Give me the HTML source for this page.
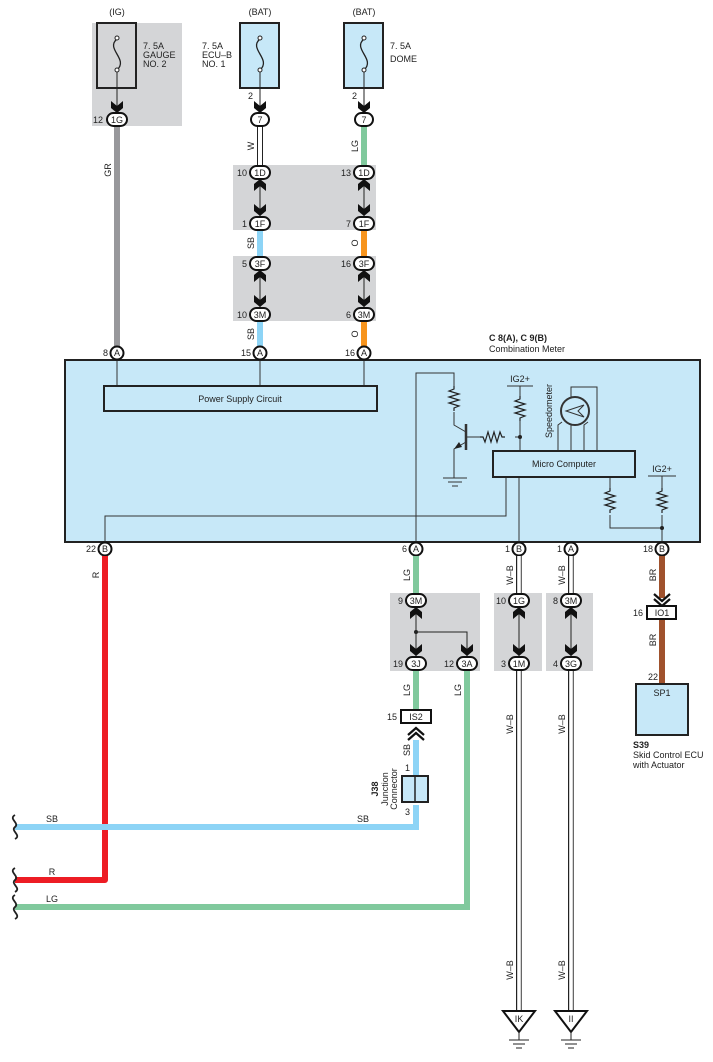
<!DOCTYPE html>
<html><head><meta charset="utf-8"><style>
html,body{margin:0;padding:0;background:#fff}
svg{display:block}
text{font-family:"Liberation Sans",sans-serif;font-size:9px;fill:#222}
.c{text-anchor:middle}
.r{text-anchor:end}
</style></head><body>
<svg width="713" height="1062" viewBox="0 0 713 1062" xmlns="http://www.w3.org/2000/svg">
<defs>
<polygon id="ad" points="-6,-11 0,-6 6,-11 6,-4 0,1 -6,-4" fill="#111"/>
<polygon id="au" points="-6,11 0,6 6,11 6,4 0,-1 -6,4" fill="#111"/>
<path id="res" d="M0,0 l0,3 l-5,2 l10,3 l-10,3 l10,3 l-10,3 l10,3 l-5,2 l0,3" fill="none" stroke="#222" stroke-width="1.2"/>
</defs>

<rect x="92" y="23" width="90" height="103" fill="#d4d5d7"/>
<rect x="233" y="165" width="143" height="65" fill="#d4d5d7"/>
<rect x="233" y="256" width="143" height="65" fill="#d4d5d7"/>
<rect x="390" y="593" width="90" height="78" fill="#d4d5d7"/>
<rect x="494" y="593" width="48" height="78" fill="#d4d5d7"/>
<rect x="546" y="593" width="47" height="78" fill="#d4d5d7"/>

<text x="117" y="15" class="c">(IG)</text>
<text x="260" y="15" class="c">(BAT)</text>
<text x="364" y="15" class="c">(BAT)</text>
<rect x="97" y="23" width="39" height="65" fill="#d4d5d7" stroke="#222" stroke-width="2"/>
<rect x="240" y="23" width="39" height="65" fill="#c7e8f8" stroke="#222" stroke-width="2"/>
<rect x="344" y="23" width="39" height="65" fill="#c7e8f8" stroke="#222" stroke-width="2"/>
<g fill="none" stroke="#222" stroke-width="1.3">
<path d="M117,39 c-12,10 12,20 0,31"/><path d="M260,39 c-12,10 12,20 0,31"/><path d="M364,39 c-12,10 12,20 0,31"/>
</g>
<g fill="#fff" stroke="#222"><circle cx="117" cy="38" r="2"/><circle cx="117" cy="70" r="2"/><circle cx="260" cy="38" r="2"/><circle cx="260" cy="70" r="2"/><circle cx="364" cy="38" r="2"/><circle cx="364" cy="70" r="2"/></g>
<text x="143" y="49">7. 5A</text><text x="143" y="58">GAUGE</text><text x="143" y="67">NO. 2</text>
<text x="202" y="49">7. 5A</text><text x="202" y="58">ECU–B</text><text x="202" y="67">NO. 1</text>
<text x="390" y="49">7. 5A</text><text x="390" y="62">DOME</text>
<g stroke="#222" stroke-width="1"><line x1="117" y1="72" x2="117" y2="108"/><line x1="260" y1="72" x2="260" y2="108"/><line x1="364" y1="72" x2="364" y2="108"/></g>
<use href="#ad" x="117" y="112"/><use href="#ad" x="260" y="112"/><use href="#ad" x="364" y="112"/>
<text x="253" y="99" class="r">2</text><text x="357" y="99" class="r">2</text>

<line x1="117" y1="126" x2="117" y2="346" stroke="#98989b" stroke-width="6"/>
<line x1="260" y1="126" x2="260" y2="165" stroke="#222" stroke-width="6"/>
<line x1="260" y1="126" x2="260" y2="165" stroke="#fff" stroke-width="4"/>
<line x1="364" y1="126" x2="364" y2="165" stroke="#80c99d" stroke-width="6"/>
<line x1="260" y1="230" x2="260" y2="256" stroke="#8dd4f6" stroke-width="6"/>
<line x1="364" y1="230" x2="364" y2="256" stroke="#f7941d" stroke-width="6"/>
<line x1="260" y1="321" x2="260" y2="346" stroke="#8dd4f6" stroke-width="6"/>
<line x1="364" y1="321" x2="364" y2="346" stroke="#f7941d" stroke-width="6"/>
<g font-size="9">
<text transform="translate(111,170) rotate(-90)" class="c">GR</text>
<text transform="translate(254,146) rotate(-90)" class="c">W</text>
<text transform="translate(358,146) rotate(-90)" class="c">LG</text>
<text transform="translate(254,243) rotate(-90)" class="c">SB</text>
<text transform="translate(358,243) rotate(-90)" class="c">O</text>
<text transform="translate(254,334) rotate(-90)" class="c">SB</text>
<text transform="translate(358,334) rotate(-90)" class="c">O</text>
</g>
<g stroke="#222" stroke-width="1"><line x1="260" y1="178" x2="260" y2="216"/><line x1="364" y1="178" x2="364" y2="216"/><line x1="260" y1="269" x2="260" y2="307"/><line x1="364" y1="269" x2="364" y2="307"/></g>
<use href="#au" x="260" y="180"/><use href="#ad" x="260" y="215"/><use href="#au" x="364" y="180"/><use href="#ad" x="364" y="215"/>
<use href="#au" x="260" y="271"/><use href="#ad" x="260" y="306"/><use href="#au" x="364" y="271"/><use href="#ad" x="364" y="306"/>
<g fill="#fff" stroke="#111" stroke-width="2">
<rect x="107" y="113" width="20" height="13" rx="6.5"/>
<rect x="251" y="113" width="18" height="13" rx="6.5"/><rect x="355" y="113" width="18" height="13" rx="6.5"/>
<rect x="250" y="166" width="20" height="13" rx="6.5"/><rect x="354" y="166" width="20" height="13" rx="6.5"/>
<rect x="250" y="217" width="20" height="13" rx="6.5"/><rect x="354" y="217" width="20" height="13" rx="6.5"/>
<rect x="250" y="257" width="20" height="13" rx="6.5"/><rect x="354" y="257" width="20" height="13" rx="6.5"/>
<rect x="250" y="308" width="20" height="13" rx="6.5"/><rect x="354" y="308" width="20" height="13" rx="6.5"/>
</g>
<text x="117" y="123" class="c">1G</text><text x="103" y="123" class="r">12</text>
<text x="260" y="123" class="c">7</text><text x="364" y="123" class="c">7</text>
<text x="260" y="176" class="c">1D</text><text x="364" y="176" class="c">1D</text><text x="247" y="176" class="r">10</text><text x="351" y="176" class="r">13</text>
<text x="260" y="227" class="c">1F</text><text x="364" y="227" class="c">1F</text><text x="247" y="227" class="r">1</text><text x="351" y="227" class="r">7</text>
<text x="260" y="267" class="c">3F</text><text x="364" y="267" class="c">3F</text><text x="247" y="267" class="r">5</text><text x="351" y="267" class="r">16</text>
<text x="260" y="318" class="c">3M</text><text x="364" y="318" class="c">3M</text><text x="247" y="318" class="r">10</text><text x="351" y="318" class="r">6</text>

<text x="489" y="341" font-weight="bold">C 8(A), C 9(B)</text>
<text x="489" y="352">Combination Meter</text>
<rect x="65" y="360" width="635" height="182" fill="#c7e8f8" stroke="#222" stroke-width="2"/>
<g stroke="#333" stroke-width="1" fill="none">
<line x1="117" y1="360" x2="117" y2="386"/><line x1="260" y1="360" x2="260" y2="386"/><line x1="364" y1="360" x2="364" y2="386"/>
<path d="M105,543 V516 H506 V477"/>
<path d="M416,543 V373 H454 V386"/>
<path d="M454,412 V425 L466,432"/>
<path d="M466,442 L454,449 V478"/>
<line x1="466" y1="424" x2="466" y2="450" stroke-width="2.5"/>
<path d="M466,437 H480"/><path d="M515,437 H520"/>
<line x1="443" y1="478" x2="467" y2="478"/><line x1="448" y1="482" x2="462" y2="482"/><line x1="452" y1="486" x2="458" y2="486"/>
<line x1="507" y1="386" x2="533" y2="386"/>
<path d="M520,386 V398"/><path d="M520,420 V451"/>
<line x1="519" y1="477" x2="519" y2="543"/>
<path d="M558,451 V425 L562,422"/><path d="M571,451 V425"/><path d="M584,451 V425 L588,422"/>
<path d="M571,397 V387 H597 V451"/>
<circle cx="575" cy="411" r="14" stroke-width="2"/>
<path d="M566,411 L584,405 L578,411 L584,417 Z"/>
<path d="M610,477 V489"/><path d="M610,515 V528 H662"/>
<line x1="648" y1="476" x2="676" y2="476"/>
<path d="M662,476 V489"/><path d="M662,515 V543"/>
</g>
<use href="#res" x="454" y="386"/>
<use href="#res" x="520" y="396"/>
<use href="#res" x="610" y="488"/>
<use href="#res" x="662" y="488"/>
<use href="#res" transform="translate(480,437) rotate(-90)"/>
<polygon points="454,449 459,442 462,447" fill="#222"/>
<circle cx="520" cy="437" r="2" fill="#222"/><circle cx="662" cy="528" r="2" fill="#222"/>
<rect x="104" y="386" width="273" height="25" fill="none" stroke="#222" stroke-width="2"/>
<text x="240" y="402" class="c">Power Supply Circuit</text>
<rect x="493" y="451" width="142" height="26" fill="#c7e8f8" stroke="#222" stroke-width="2"/>
<text x="564" y="467" class="c">Micro Computer</text>
<text x="520" y="382" class="c">IG2+</text><text x="662" y="472" class="c">IG2+</text>
<text transform="translate(552,411) rotate(-90)" class="c">Speedometer</text>
<g fill="#fff" stroke="#111" stroke-width="2">
<circle cx="117" cy="353" r="6.5"/><circle cx="260" cy="353" r="6.5"/><circle cx="364" cy="353" r="6.5"/>
<circle cx="105" cy="549" r="6.5"/><circle cx="416" cy="549" r="6.5"/><circle cx="519" cy="549" r="6.5"/><circle cx="571" cy="549" r="6.5"/><circle cx="662" cy="549" r="6.5"/>
</g>
<g font-size="8">
<text x="117" y="356" class="c">A</text><text x="260" y="356" class="c">A</text><text x="364" y="356" class="c">A</text>
<text x="105" y="552" class="c">B</text><text x="416" y="552" class="c">A</text><text x="519" y="552" class="c">B</text><text x="571" y="552" class="c">A</text><text x="662" y="552" class="c">B</text>
</g>
<text x="108" y="356" class="r">8</text><text x="251" y="356" class="r">15</text><text x="355" y="356" class="r">16</text>
<text x="96" y="552" class="r">22</text><text x="407" y="552" class="r">6</text><text x="510" y="552" class="r">1</text><text x="562" y="552" class="r">1</text><text x="653" y="552" class="r">18</text>

<path d="M105,556 V880 H15" fill="none" stroke="#ed1c24" stroke-width="6" stroke-linejoin="round"/>
<path d="M416,805 V827 H15" fill="none" stroke="#8dd4f6" stroke-width="6"/>
<line x1="416" y1="740" x2="416" y2="776" stroke="#8dd4f6" stroke-width="6"/>
<line x1="416" y1="556" x2="416" y2="593" stroke="#80c99d" stroke-width="6"/>
<line x1="416" y1="671" x2="416" y2="710" stroke="#80c99d" stroke-width="6"/>
<path d="M467,671 V907 H15" fill="none" stroke="#80c99d" stroke-width="6"/>
<line x1="662" y1="556" x2="662" y2="598" stroke="#a0522d" stroke-width="6"/>
<line x1="662" y1="620" x2="662" y2="684" stroke="#a0522d" stroke-width="6"/>
<g stroke="#222" stroke-width="6"><line x1="519" y1="556" x2="519" y2="593"/><line x1="571" y1="556" x2="571" y2="593"/><line x1="519" y1="671" x2="519" y2="1012"/><line x1="571" y1="671" x2="571" y2="1012"/></g>
<g stroke="#fff" stroke-width="3.6"><line x1="519" y1="556" x2="519" y2="593"/><line x1="571" y1="556" x2="571" y2="593"/><line x1="519" y1="671" x2="519" y2="1012"/><line x1="571" y1="671" x2="571" y2="1012"/></g>
<g stroke="#aaa" stroke-width="1"><line x1="521" y1="556" x2="521" y2="593"/><line x1="573" y1="556" x2="573" y2="593"/><line x1="521" y1="671" x2="521" y2="1012"/><line x1="573" y1="671" x2="573" y2="1012"/></g>
<g fill="none" stroke="#222" stroke-width="1.8">
<path d="M15,815 c-7,4 5,8 0,12 c-5,4 7,8 0,12"/>
<path d="M15,868 c-7,4 5,8 0,12 c-5,4 7,8 0,12"/>
<path d="M15,895 c-7,4 5,8 0,12 c-5,4 7,8 0,12"/>
</g>
<text x="52" y="822" class="c">SB</text><text x="363" y="822" class="c">SB</text>
<text x="52" y="875" class="c">R</text><text x="52" y="902" class="c">LG</text>
<text transform="translate(99,575) rotate(-90)" class="c">R</text>
<text transform="translate(410,575) rotate(-90)" class="c">LG</text>
<text transform="translate(513,575) rotate(-90)" class="c">W–B</text>
<text transform="translate(565,575) rotate(-90)" class="c">W–B</text>
<text transform="translate(656,575) rotate(-90)" class="c">BR</text>
<text transform="translate(656,640) rotate(-90)" class="c">BR</text>
<text transform="translate(410,690) rotate(-90)" class="c">LG</text>
<text transform="translate(461,690) rotate(-90)" class="c">LG</text>
<text transform="translate(410,750) rotate(-90)" class="c">SB</text>
<text transform="translate(513,724) rotate(-90)" class="c">W–B</text>
<text transform="translate(565,724) rotate(-90)" class="c">W–B</text>
<text transform="translate(513,970) rotate(-90)" class="c">W–B</text>
<text transform="translate(565,970) rotate(-90)" class="c">W–B</text>

<g stroke="#222" stroke-width="1" fill="none">
<line x1="416" y1="606" x2="416" y2="656"/><path d="M416,632 H467 V656"/>
<line x1="519" y1="606" x2="519" y2="656"/><line x1="571" y1="606" x2="571" y2="656"/>
</g>
<circle cx="416" cy="632" r="2" fill="#222"/>
<use href="#au" x="416" y="608"/><use href="#ad" x="416" y="655"/><use href="#ad" x="467" y="655"/>
<use href="#au" x="519" y="608"/><use href="#ad" x="519" y="655"/>
<use href="#au" x="571" y="608"/><use href="#ad" x="571" y="655"/>
<g fill="#fff" stroke="#111" stroke-width="2">
<rect x="406" y="594" width="20" height="13" rx="6.5"/><rect x="406" y="657" width="20" height="13" rx="6.5"/><rect x="457" y="657" width="20" height="13" rx="6.5"/>
<rect x="509" y="594" width="20" height="13" rx="6.5"/><rect x="509" y="657" width="20" height="13" rx="6.5"/>
<rect x="561" y="594" width="20" height="13" rx="6.5"/><rect x="561" y="657" width="20" height="13" rx="6.5"/>
</g>
<text x="416" y="604" class="c">3M</text><text x="403" y="604" class="r">9</text>
<text x="416" y="667" class="c">3J</text><text x="403" y="667" class="r">19</text>
<text x="467" y="667" class="c">3A</text><text x="454" y="667" class="r">12</text>
<text x="519" y="604" class="c">1G</text><text x="506" y="604" class="r">10</text>
<text x="519" y="667" class="c">1M</text><text x="506" y="667" class="r">3</text>
<text x="571" y="604" class="c">3M</text><text x="558" y="604" class="r">8</text>
<text x="571" y="667" class="c">3G</text><text x="558" y="667" class="r">4</text>
<rect x="401" y="710" width="30" height="13" fill="#fff" stroke="#111" stroke-width="2"/>
<text x="416" y="720" class="c">IS2</text><text x="397" y="720" class="r">15</text>
<path d="M408,735 L416,728 L424,735 M408,740 L416,733 L424,740" fill="none" stroke="#111" stroke-width="2.2"/>
<rect x="402" y="776" width="26" height="26" fill="#c7e8f8" stroke="#222" stroke-width="2"/>
<line x1="415" y1="776" x2="415" y2="802" stroke="#222" stroke-width="1.5"/>
<text x="410" y="771" class="r">1</text><text x="410" y="815" class="r">3</text>
<text transform="translate(378,789) rotate(-90)" class="c" font-weight="bold">J38</text>
<text transform="translate(388,789) rotate(-90)" class="c">Junction</text>
<text transform="translate(397,789) rotate(-90)" class="c">Connector</text>
<path d="M654,594 L662,601 L670,594 M654,599 L662,606 L670,599" fill="none" stroke="#111" stroke-width="2.2"/>
<rect x="647" y="606" width="29" height="13" fill="#fff" stroke="#111" stroke-width="2"/>
<text x="662" y="616" class="c">IO1</text><text x="643" y="616" class="r">16</text>
<text x="658" y="680" class="r">22</text>
<rect x="636" y="684" width="52" height="51" fill="#c7e8f8" stroke="#222" stroke-width="2"/>
<text x="662" y="696" class="c">SP1</text>
<text x="633" y="748" font-weight="bold">S39</text>
<text x="633" y="758">Skid Control ECU</text>
<text x="633" y="768">with Actuator</text>
<g fill="#fff" stroke="#111" stroke-width="2">
<polygon points="503,1011 535,1011 519,1032"/><polygon points="555,1011 587,1011 571,1032"/>
</g>
<g stroke="#222" stroke-width="1">
<line x1="519" y1="1032" x2="519" y2="1040"/><line x1="509" y1="1040" x2="529" y2="1040"/><line x1="513" y1="1044" x2="525" y2="1044"/><line x1="516" y1="1048" x2="522" y2="1048"/>
<line x1="571" y1="1032" x2="571" y2="1040"/><line x1="561" y1="1040" x2="581" y2="1040"/><line x1="565" y1="1044" x2="577" y2="1044"/><line x1="568" y1="1048" x2="574" y2="1048"/>
</g>
<text x="519" y="1022" class="c">IK</text><text x="571" y="1022" class="c">II</text>
</svg>
</body></html>
